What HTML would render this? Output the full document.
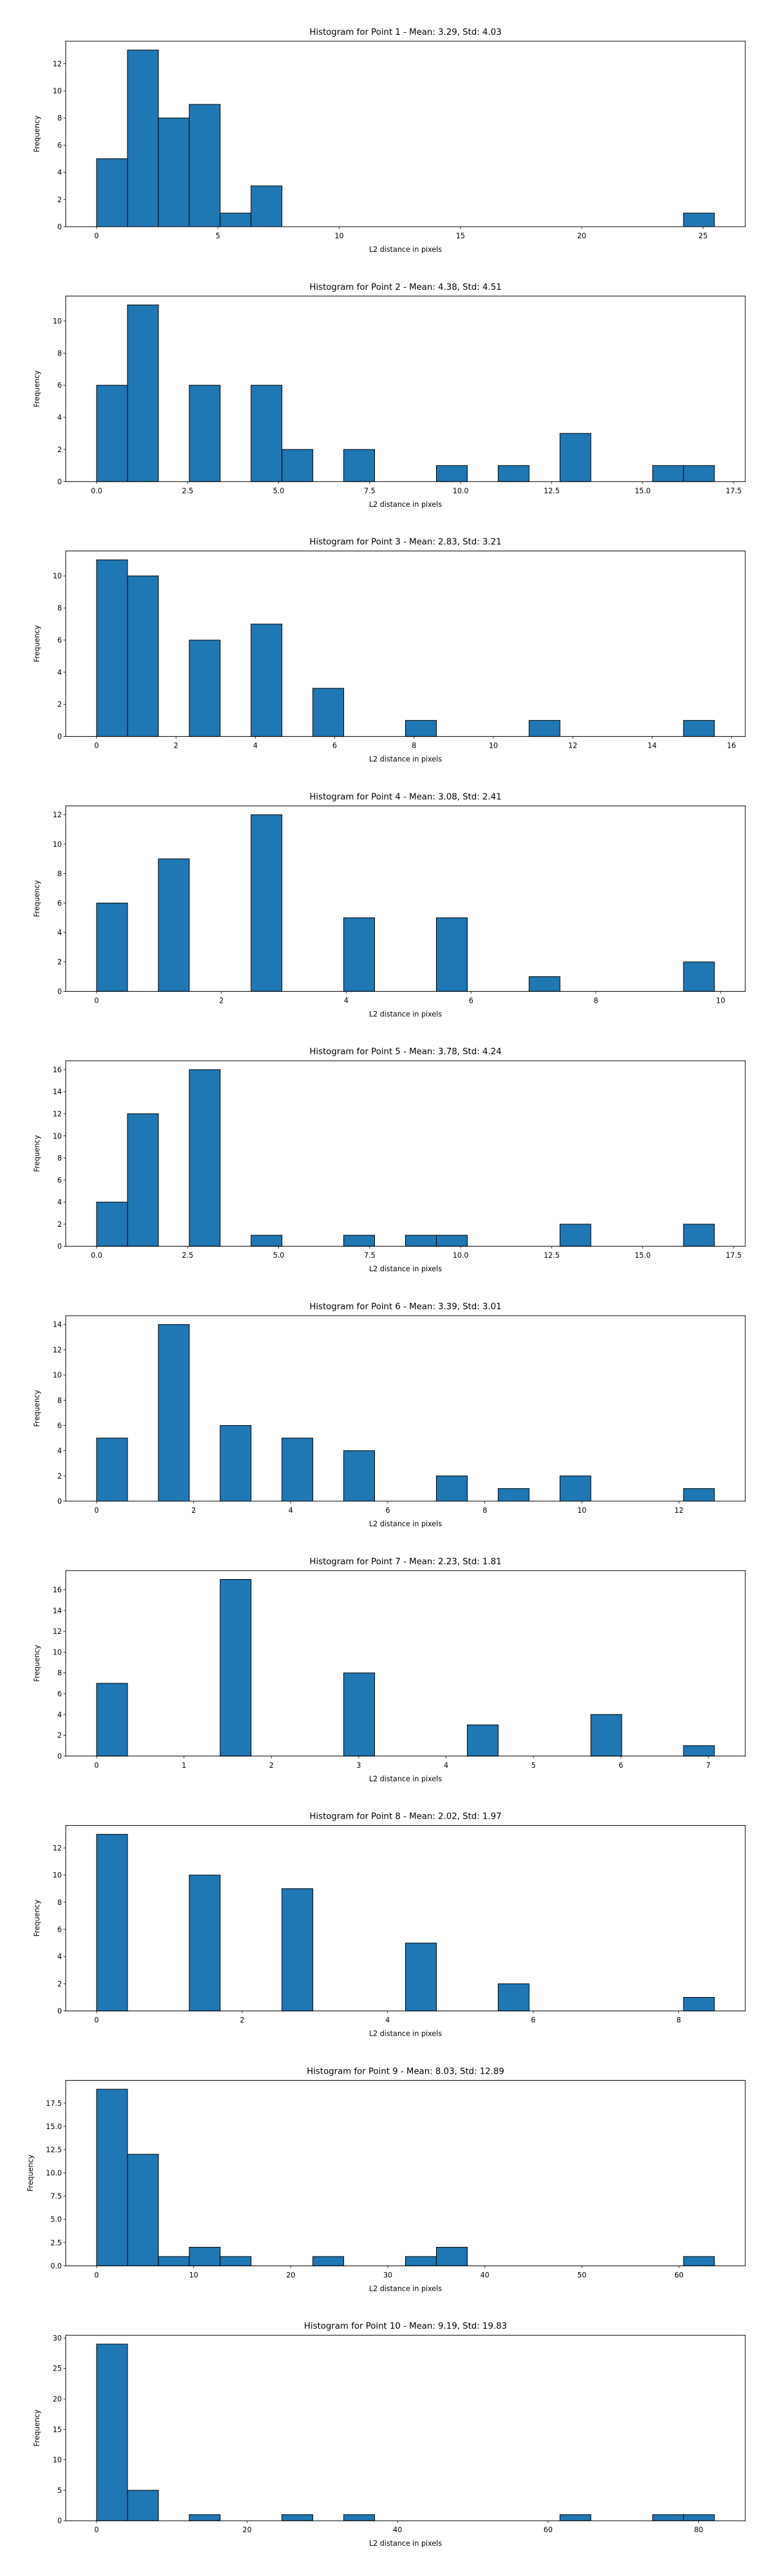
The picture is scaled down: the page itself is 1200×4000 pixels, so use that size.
<!DOCTYPE html>
<html><head><meta charset="utf-8">
<style>
html,body{margin:0;padding:0;background:#fff;}
svg{display:block;font-family:"DejaVu Sans","Liberation Sans",sans-serif;}
</style></head>
<body>
<svg id="fig" width="1200" height="4000" viewBox="0 0 1200 4000" xmlns="http://www.w3.org/2000/svg"></svg>
<script>
// ---- data ----
const titles = [
  "Histogram for Point 1 - Mean: 3.29, Std: 4.03",
  "Histogram for Point 2 - Mean: 4.38, Std: 4.51",
  "Histogram for Point 3 - Mean: 2.83, Std: 3.21",
  "Histogram for Point 4 - Mean: 3.08, Std: 2.41",
  "Histogram for Point 5 - Mean: 3.78, Std: 4.24",
  "Histogram for Point 6 - Mean: 3.39, Std: 3.01",
  "Histogram for Point 7 - Mean: 2.23, Std: 1.81",
  "Histogram for Point 8 - Mean: 2.02, Std: 1.97",
  "Histogram for Point 9 - Mean: 8.03, Std: 12.89",
  "Histogram for Point 10 - Mean: 9.19, Std: 19.83"
];
const binMins = [0,0,0,0,0,0,0,0,0,0];
const binMaxs = [25.47,16.97,15.57,9.9,16.97,12.73,7.07,8.49,63.65,82.1];
const counts1 = [5,13,8,9,1,3,0,0,0,0,0,0,0,0,0,0,0,0,0,1];
const counts2 = [6,11,0,6,0,6,2,0,2,0,0,1,0,1,0,3,0,0,1,1];
const counts3 = [11,10,0,6,0,7,0,3,0,0,1,0,0,0,1,0,0,0,0,1];
const counts4 = [6,0,9,0,0,12,0,0,5,0,0,5,0,0,1,0,0,0,0,2];
const counts5 = [4,12,0,16,0,1,0,0,1,0,1,1,0,0,0,2,0,0,0,2];
const counts6 = [5,0,14,0,6,0,5,0,4,0,0,2,0,1,0,2,0,0,0,1];
const counts7 = [7,0,0,0,17,0,0,0,8,0,0,0,3,0,0,0,4,0,0,1];
const counts8 = [13,0,0,10,0,0,9,0,0,0,5,0,0,2,0,0,0,0,0,1];
const counts9 = [19,12,1,2,1,0,0,1,0,0,1,2,0,0,0,0,0,0,0,1];
const counts10 = [29,5,0,1,0,0,1,0,1,0,0,0,0,0,0,1,0,0,1,1];
const allCounts = [counts1,counts2,counts3,counts4,counts5,counts6,counts7,counts8,counts9,counts10];
const xTickSteps = [5,2.5,2,2,2.5,2,1,2,10,20];
const xTickDecimals = [0,1,0,0,1,0,0,0,0,0];
const yTickSteps = [2,2,2,2,2,2,2,2,2.5,5];
const yTickDecimals = [0,0,0,0,0,0,0,0,1,0];

// ---- drawing ----
const NS = "http://www.w3.org/2000/svg";
const svg = document.getElementById("fig");
function mk(tag, attrs, parent) {
  const e = document.createElementNS(NS, tag);
  for (const k in attrs) e.setAttribute(k, attrs[k]);
  parent.appendChild(e);
  return e;
}
const AX_L = 102, AX_R = 1157, AX_H = 288, TOP0 = 64, GAP = 395.8;

for (let i = 0; i < 10; i++) {
  const counts = allCounts[i];
  const top = TOP0 + i * GAP, bottom = top + AX_H;
  const g = mk("g", {}, svg);
  
  
  const lo = binMins[i], hi = binMaxs[i], r = hi - lo;
  const xMin = lo - 0.05 * r, xMax = hi + 0.05 * r;
  const xs = v => AX_L + (v - xMin) / (xMax - xMin) * (AX_R - AX_L);
  const yMax = Math.max(...counts) * 1.05;
  const ys = v => bottom - v / yMax * AX_H;

  const t = mk("text", {x: (AX_L + AX_R) / 2, y: top - 10, "text-anchor": "middle", "font-size": "13.3", fill: "#000"}, g);
  t.textContent = titles[i];
  
  

  const bw = r / counts.length;
  counts.forEach((c, k) => {
    const x0 = xs(lo + k * bw), x1 = xs(lo + (k + 1) * bw);
    const b = mk("rect", {x: x0, y: ys(c), width: x1 - x0, height: ys(0) - ys(c), fill: "#1f77b4", stroke: "#000", "stroke-width": 1}, g);
    
    
  });

  const frame = mk("rect", {x: AX_L, y: top, width: AX_R - AX_L, height: AX_H, fill: "none", stroke: "#000", "stroke-width": 1}, g);
  
  

  const xs_ = xTickSteps[i];
  for (let v = Math.ceil(xMin / xs_) * xs_; v <= xMax + 1e-9; v += xs_) {
    const px = xs(v);
    mk("line", {x1: px, x2: px, y1: bottom, y2: bottom + 3.5, stroke: "#000", "stroke-width": 0.8}, g);
    const tl = mk("text", {x: px, y: bottom + 18, "text-anchor": "middle", "font-size": "11.1", fill: "#000"}, g);
    tl.textContent = v.toFixed(xTickDecimals[i]);
    
    
  }
  const ys_ = yTickSteps[i];
  for (let v = 0; v <= yMax + 1e-9; v += ys_) {
    const py = ys(v);
    mk("line", {x1: AX_L - 3.5, x2: AX_L, y1: py, y2: py, stroke: "#000", "stroke-width": 0.8}, g);
    const tl = mk("text", {x: AX_L - 6, y: py + 4, "text-anchor": "end", "font-size": "11.1", fill: "#000"}, g);
    tl.textContent = v.toFixed(yTickDecimals[i]);
    
    
  }
  const xl = mk("text", {x: (AX_L + AX_R) / 2, y: bottom + 39, "text-anchor": "middle", "font-size": "11.1", fill: "#000"}, g);
  xl.textContent = "L2 distance in pixels";
  
  
  const ylx = i === 8 ? 51 : 61;
  const yl = mk("text", {x: ylx, y: top + AX_H / 2, "text-anchor": "middle", "font-size": "11.1", fill: "#000", transform: "rotate(-90 " + ylx + " " + (top + AX_H / 2) + ")"}, g);
  yl.textContent = "Frequency";
  
  
}
</script>
</body></html>
